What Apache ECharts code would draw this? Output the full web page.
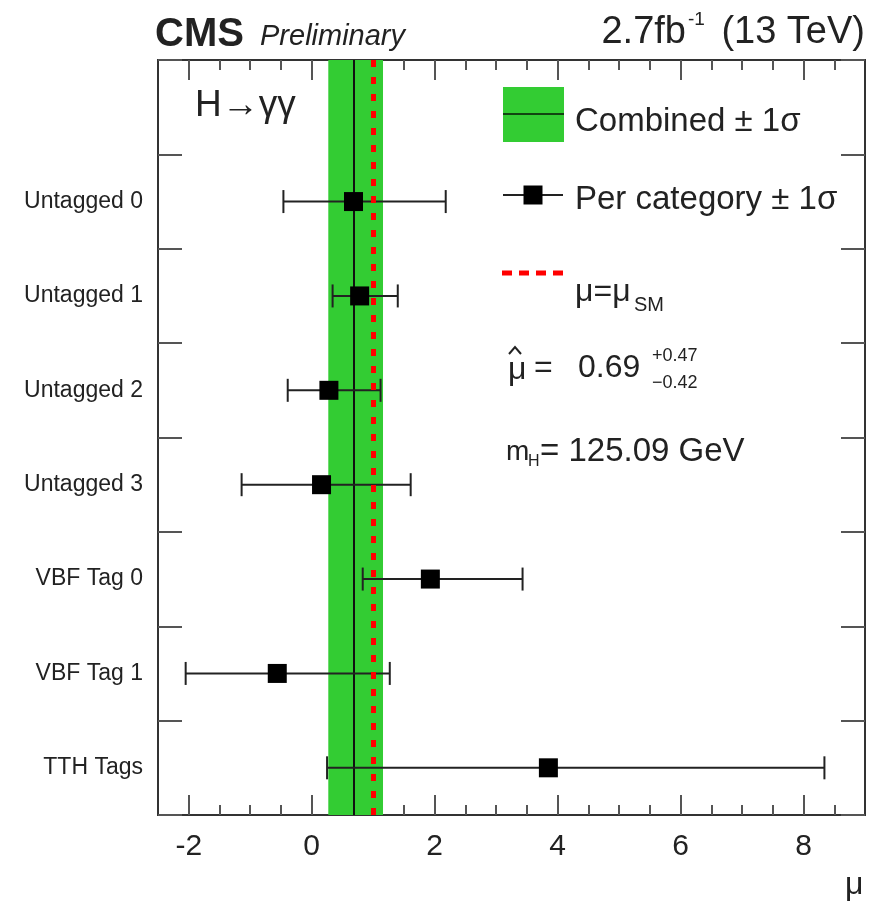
<!DOCTYPE html>
<html>
<head>
<meta charset="utf-8">
<script src="https://cdn.jsdelivr.net/npm/echarts@6/dist/echarts.min.js"></script>
<style>html,body{margin:0;padding:0;background:#fff}#chart{width:875px;height:903px}</style>
</head>
<body>
<div id="chart"></div>
<script>
// categories from bottom to top, last one is the empty legend row
var categories = ['TTH Tags', 'VBF Tag 1', 'VBF Tag 0', 'Untagged 3', 'Untagged 2', 'Untagged 1', 'Untagged 0', ''];
var muBest = [3.85, -0.56, 1.93, 0.16, 0.28, 0.78, 0.68];
var muLow = [0.25, -2.05, 0.83, -1.14, -0.39, 0.34, -0.46];
var muHigh = [8.34, 1.27, 3.43, 1.61, 1.12, 1.40, 2.18];
var combined = 0.69;
var combinedLow = 0.27;
var combinedHigh = 1.16;
var muSM = 1;
var majorTicks = [-2, 0, 2, 4, 6, 8];
var minorTicks = [-2, -1.5, -1, -0.5, 0, 0.5, 1, 1.5, 2, 2.5, 3, 3.5, 4, 4.5, 5, 5.5, 6, 6.5, 7, 7.5, 8, 8.5];

var FONT = '"Liberation Sans", Arial, Helvetica, sans-serif';

var errData = [];
for (var i = 0; i < muBest.length; i++) {
    errData.push([muBest[i], i, muLow[i], muHigh[i]]);
}

//误差棒
function renderErr(params, api) {
    var y = api.value(1);
    var c = api.coord([api.value(0), y]);
    var lo = api.coord([api.value(2), y]);
    var hi = api.coord([api.value(3), y]);
    var cap = 11.5, half = 9.5;
    var st = {stroke: '#222', lineWidth: 2};
    return {
        type: 'group',
        children: [
            {type: 'line', shape: {x1: lo[0], y1: c[1], x2: hi[0], y2: c[1]}, style: st},
            {type: 'line', shape: {x1: lo[0], y1: c[1] - cap, x2: lo[0], y2: c[1] + cap}, style: st},
            {type: 'line', shape: {x1: hi[0], y1: c[1] - cap, x2: hi[0], y2: c[1] + cap}, style: st},
            {type: 'rect', shape: {x: c[0] - half, y: c[1] - half, width: 2 * half, height: 2 * half}, style: {fill: '#000'}}
        ]
    };
}

function xAxisDef(pos, ticks, len, labels) {
    return {
        type: 'value', position: pos, min: -2.5, max: 9,
        axisLine: {show: false, onZero: false},
        splitLine: {show: false},
        axisTick: {show: true, inside: true, length: len, customValues: ticks, lineStyle: {color: '#555', width: 2}},
        axisLabel: labels ? {show: true, customValues: majorTicks, fontSize: 30, color: '#222', fontFamily: FONT, margin: 17} : {show: false}
    };
}

function yAxisDef(pos, labels) {
    return {
        type: 'category', position: pos, data: categories,
        axisLine: {show: false, onZero: false},
        splitLine: {show: false},
        axisTick: {show: true, inside: true, length: 24, lineStyle: {color: '#555', width: 2}},
        axisLabel: labels ? {show: true, fontSize: 23, color: '#222', fontFamily: FONT, margin: 15} : {show: false}
    };
}

function txt(x, y, s, size, opt) {
    opt = opt || {};
    return {
        type: 'text', x: x, y: y, z: 50,
        style: {
            text: s,
            font: (opt.weight || '') + ' ' + (opt.italic ? 'italic ' : '') + size + 'px ' + FONT,
            fill: opt.color || '#222',
            align: opt.align || 'left',
            verticalAlign: 'middle'
        }
    };
}

var myChart = echarts.init(document.getElementById('chart'));
var option = {
    animation: false,
    backgroundColor: '#fff',
    grid: {left: 158, right: 10, top: 60, bottom: 88, show: true, borderColor: '#333', borderWidth: 2, backgroundColor: 'transparent'},
    xAxis: [
        xAxisDef('bottom', majorTicks, 20, true),
        xAxisDef('bottom', minorTicks, 10, false),
        xAxisDef('top', majorTicks, 20, false),
        xAxisDef('top', minorTicks, 10, false)
    ],
    yAxis: [yAxisDef('left', true), yAxisDef('right', false)],
    series: [
        {
            type: 'custom', name: 'Combined', z: 1,
            renderItem: function () { return null; },
            data: [],
            markArea: {
                silent: true, z: 1,
                itemStyle: {color: '#33cc33'},
                data: [[{xAxis: combinedLow}, {xAxis: combinedHigh}]]
            },
            markLine: {
                silent: true, z: 2, symbol: 'none', label: {show: false},
                lineStyle: {color: '#111', width: 2, type: 'solid'},
                data: [{xAxis: combined}]
            }
        },
        {
            type: 'custom', name: 'Per category', z: 3,
            renderItem: renderErr,
            encode: {x: 0, y: 1},
            data: errData,
            markLine: {
                silent: true, z: 5, symbol: 'none', label: {show: false},
                lineStyle: {color: '#ff0000', width: 5, type: [7, 10]},
                data: [{xAxis: muSM}]
            }
        }
    ],
    graphic: [
        txt(155, 35, 'CMS', 40, {weight: 'bold'}),
        txt(260, 37, 'Preliminary', 29, {italic: true}),
        txt(686, 33, '2.7fb', 38, {align: 'right'}),
        txt(688, 20, '-1', 19),
        txt(865, 33, '(13 TeV)', 38, {align: 'right'}),
        txt(195, 106, 'H\u2192\u03b3\u03b3', 37),
        // 图例
        {type: 'rect', z: 50, shape: {x: 503, y: 87, width: 61, height: 55}, style: {fill: '#33cc33'}},
        {type: 'line', z: 51, shape: {x1: 503, y1: 114, x2: 564, y2: 114}, style: {stroke: '#114411', lineWidth: 2}},
        txt(575, 122, 'Combined \u00b1 1\u03c3', 33),
        {type: 'line', z: 50, shape: {x1: 503, y1: 195, x2: 563, y2: 195}, style: {stroke: '#222', lineWidth: 2}},
        {type: 'rect', z: 51, shape: {x: 523.5, y: 185.5, width: 19, height: 19}, style: {fill: '#000'}},
        txt(575, 200, 'Per category \u00b1 1\u03c3', 33),
        {type: 'line', z: 50, shape: {x1: 502, y1: 273, x2: 563, y2: 273}, style: {stroke: '#ff0000', lineWidth: 5, lineDash: [10, 7]}},
        txt(575, 292, '\u03bc=\u03bc', 32),
        txt(634, 305, 'SM', 20),
        txt(508, 370, '\u03bc', 32),
        {type: 'polyline', z: 50, shape: {points: [[509, 354], [515, 347], [521, 354]]}, style: {stroke: '#222', lineWidth: 2, fill: null}},
        txt(534, 368, '=', 32),
        txt(578, 368, '0.69', 32),
        txt(652, 356, '+0.47', 18),
        txt(652, 383, '\u22120.42', 18),
        txt(506, 452, 'm', 28),
        txt(528, 462, 'H', 16),
        txt(540, 452, '= 125.09 GeV', 33),
        txt(845, 885, '\u03bc', 32)
    ]
};
myChart.setOption(option);
</script>
</body>
</html>
